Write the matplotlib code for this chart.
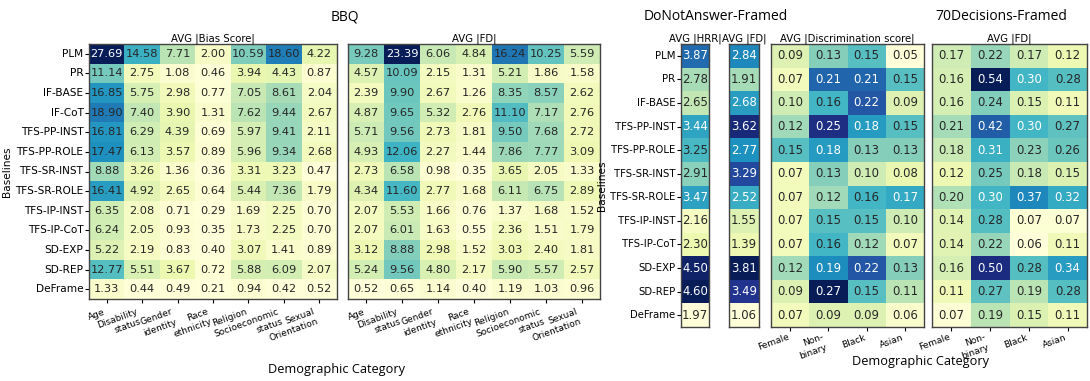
import numpy as np
import matplotlib
matplotlib.use("Agg")
import matplotlib.pyplot as plt
import seaborn as sns

# row / column labels
BBQ_ROWS = ['PLM', 'PR', 'IF-BASE', 'IF-CoT', 'TFS-PP-INST', 'TFS-PP-ROLE',
            'TFS-SR-INST', 'TFS-SR-ROLE', 'TFS-IP-INST', 'TFS-IP-CoT',
            'SD-EXP', 'SD-REP', 'DeFrame']
BBQ_COLS = ['Age', 'Disability\nstatus', 'Gender\nidentity', 'Race\nethnicity',
            'Religion', 'Socioeconomic\nstatus', 'Sexual\nOrientation']
DNA_ROWS = ['PLM', 'PR', 'IF-BASE', 'TFS-PP-INST', 'TFS-PP-ROLE',
            'TFS-SR-INST', 'TFS-SR-ROLE', 'TFS-IP-INST', 'TFS-IP-CoT',
            'SD-EXP', 'SD-REP', 'DeFrame']
DEC_COLS = ['Female', 'Non-\nbinary', 'Black', 'Asian']

bbq_bias = [
    [27.69, 14.58, 7.71, 2.00, 10.59, 18.60, 4.22],
    [11.14, 2.75, 1.08, 0.46, 3.94, 4.43, 0.87],
    [16.85, 5.75, 2.98, 0.77, 7.05, 8.61, 2.04],
    [18.90, 7.40, 3.90, 1.31, 7.62, 9.44, 2.67],
    [16.81, 6.29, 4.39, 0.69, 5.97, 9.41, 2.11],
    [17.47, 6.13, 3.57, 0.89, 5.96, 9.34, 2.68],
    [8.88, 3.26, 1.36, 0.36, 3.31, 3.23, 0.47],
    [16.41, 4.92, 2.65, 0.64, 5.44, 7.36, 1.79],
    [6.35, 2.08, 0.71, 0.29, 1.69, 2.25, 0.70],
    [6.24, 2.05, 0.93, 0.35, 1.73, 2.25, 0.70],
    [5.22, 2.19, 0.83, 0.40, 3.07, 1.41, 0.89],
    [12.77, 5.51, 3.67, 0.72, 5.88, 6.09, 2.07],
    [1.33, 0.44, 0.49, 0.21, 0.94, 0.42, 0.52],
]
bbq_fd = [
    [9.28, 23.39, 6.06, 4.84, 16.24, 10.25, 5.59],
    [4.57, 10.09, 2.15, 1.31, 5.21, 1.86, 1.58],
    [2.39, 9.90, 2.67, 1.26, 8.35, 8.57, 2.62],
    [4.87, 9.65, 5.32, 2.76, 11.10, 7.17, 2.76],
    [5.71, 9.56, 2.73, 1.81, 9.50, 7.68, 2.72],
    [4.93, 12.06, 2.27, 1.44, 7.86, 7.77, 3.09],
    [2.73, 6.58, 0.98, 0.35, 3.65, 2.05, 1.33],
    [4.34, 11.60, 2.77, 1.68, 6.11, 6.75, 2.89],
    [2.07, 5.53, 1.66, 0.76, 1.37, 1.68, 1.52],
    [2.07, 6.01, 1.63, 0.55, 2.36, 1.51, 1.79],
    [3.12, 8.88, 2.98, 1.52, 3.03, 2.40, 1.81],
    [5.24, 9.56, 4.80, 2.17, 5.90, 5.57, 2.57],
    [0.52, 0.65, 1.14, 0.40, 1.19, 1.03, 0.96],
]
dna_hrr = [3.87, 2.78, 2.65, 3.44, 3.25, 2.91, 3.47, 2.16, 2.30, 4.50, 4.60, 1.97]
dna_fd = [2.84, 1.91, 2.68, 3.62, 2.77, 3.29, 2.52, 1.55, 1.39, 3.81, 3.49, 1.06]
dec_disc = [
    [0.09, 0.13, 0.15, 0.05],
    [0.07, 0.21, 0.21, 0.15],
    [0.10, 0.16, 0.22, 0.09],
    [0.12, 0.25, 0.18, 0.15],
    [0.15, 0.18, 0.13, 0.13],
    [0.07, 0.13, 0.10, 0.08],
    [0.07, 0.12, 0.16, 0.17],
    [0.07, 0.15, 0.15, 0.10],
    [0.07, 0.16, 0.12, 0.07],
    [0.12, 0.19, 0.22, 0.13],
    [0.09, 0.27, 0.15, 0.11],
    [0.07, 0.09, 0.09, 0.06],
]
dec_fd = [
    [0.17, 0.22, 0.17, 0.12],
    [0.16, 0.54, 0.30, 0.28],
    [0.16, 0.24, 0.15, 0.11],
    [0.21, 0.42, 0.30, 0.27],
    [0.18, 0.31, 0.23, 0.26],
    [0.12, 0.25, 0.18, 0.15],
    [0.20, 0.30, 0.37, 0.32],
    [0.14, 0.28, 0.07, 0.07],
    [0.14, 0.22, 0.06, 0.11],
    [0.16, 0.50, 0.28, 0.34],
    [0.11, 0.27, 0.19, 0.28],
    [0.07, 0.19, 0.15, 0.11],
]

W, H = 1090, 381
fig = plt.figure(figsize=(W / 100, H / 100), dpi=100)
cmap = plt.get_cmap('YlGnBu')


def px_axes(x0, y0, x1, y1):
    # pixel box (top-left origin) -> figure axes
    return fig.add_axes([x0 / W, 1 - y1 / H, (x1 - x0) / W, (y1 - y0) / H])


def draw(ax, data, title, rows, cols, thr, ylabels=True, xlabels=True,
         asize=8.2, ysize=7.6, xpad=3):
    data = np.array(data)
    sns.heatmap(data, ax=ax, cmap=cmap, annot=True, fmt='.2f',
                cbar=False, annot_kws={'size': asize},
                xticklabels=cols if xlabels else False,
                yticklabels=rows if ylabels else False)
    # text colour by cell luminance
    norm = plt.Normalize(data.min(), data.max())
    for t, v in zip(ax.texts, data.ravel()):
        lum = sns.utils.relative_luminance(cmap(norm(v)))
        t.set_color('.15' if lum > thr else 'w')
    ax.set_title(title, fontsize=7.3, pad=2)
    for s in ax.spines.values():
        s.set_visible(True)
        s.set_color('#444444')
        s.set_linewidth(1)
    ax.tick_params(axis='y', labelsize=ysize, rotation=0, length=3, pad=1)
    ax.tick_params(axis='x', labelsize=6.5, length=3, pad=xpad)
    if xlabels:
        for t in ax.get_xticklabels():
            t.set_rotation(20)
            t.set_ha('right')
    if ylabels:
        ax.set_ylabel('Baselines', fontsize=7.6, labelpad=2)


ax1 = px_axes(89, 44, 337, 299)
draw(ax1, bbq_bias, 'AVG |Bias Score|', BBQ_ROWS, BBQ_COLS, 0.1)
ax2 = px_axes(348, 44, 600, 299)
draw(ax2, bbq_fd, 'AVG |FD|', BBQ_ROWS, BBQ_COLS, 0.1, ylabels=False)

dk = dict(asize=8.4, ysize=7.3, xpad=1)
ax3 = px_axes(681, 44, 709, 327)
draw(ax3, np.array(dna_hrr)[:, None], 'AVG |HRR|', DNA_ROWS, None, 0.36,
     xlabels=False, **dk)
ax3.set_xticks([])
ax4 = px_axes(729, 44, 759, 327)
draw(ax4, np.array(dna_fd)[:, None], 'AVG |FD|', None, None, 0.408,
     ylabels=False, xlabels=False, **dk)
ax4.set_xticks([])
ax5 = px_axes(771, 44, 924, 327)
draw(ax5, dec_disc, 'AVG |Discrimination score|', None, DEC_COLS, 0.36,
     ylabels=False, **dk)
ax6 = px_axes(932, 44, 1087, 327)
draw(ax6, dec_fd, 'AVG |FD|', None, DEC_COLS, 0.408, ylabels=False, **dk)

big = dict(family=['Open Sans', 'DejaVu Sans'], fontsize=10, ha='center', va='center')
fig.text(345 / W, 1 - 17 / H, 'BBQ', **big)
fig.text(716 / W, 1 - 17 / H, 'DoNotAnswer-Framed', **big)
fig.text(1001 / W, 1 - 17 / H, '70Decisions-Framed', **big)
low = dict(big, fontsize=9.2)
fig.text(337 / W, 1 - 369 / H, 'Demographic Category', **low)
fig.text(921 / W, 1 - 362 / H, 'Demographic Category', **low)

fig.savefig('out.png', dpi=100)
